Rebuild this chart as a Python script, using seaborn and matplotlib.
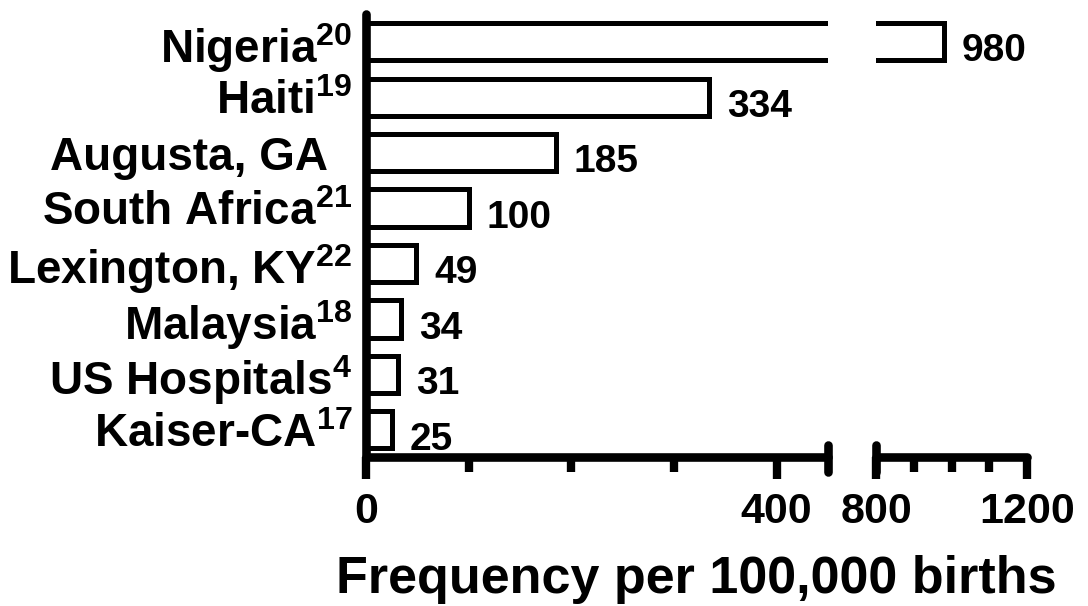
import matplotlib
matplotlib.use('Agg')
import matplotlib.pyplot as plt
import seaborn as sns


sites = ['Nigeria$^{20}$', 'Haiti$^{19}$', 'Augusta, GA  ', 'South Africa$^{21}$',
         'Lexington, KY$^{22}$', 'Malaysia$^{18}$', 'US Hospitals$^{4}$', 'Kaiser-CA$^{17}$']
freq = [980, 334, 185, 100, 49, 34, 31, 25]

left_major = [0, 400]
left_minor = [100, 200, 300]
right_major = [800, 1200]
right_minor = [900, 1000, 1100]
left_lim = (0, 450)
right_lim = (800, 1200)

sns.set_style('white')
plt.rcParams['font.family'] = ['Liberation Sans', 'DejaVu Sans']
plt.rcParams['font.weight'] = 'bold'
plt.rcParams['mathtext.fontset'] = 'custom'
plt.rcParams['mathtext.rm'] = 'Liberation Sans:bold'
plt.rcParams['mathtext.it'] = 'Liberation Sans:bold'
plt.rcParams['mathtext.bf'] = 'Liberation Sans:bold'
plt.rcParams['mathtext.sf'] = 'Liberation Sans:bold'
for k in ('text.color', 'axes.labelcolor', 'xtick.color', 'ytick.color', 'axes.edgecolor'):
    plt.rcParams[k] = 'black'

fig = plt.figure(figsize=(10.88, 6.06), dpi=100)
ax1 = fig.add_axes([366/1088, 149/606, 462/1088, 443/606])
ax2 = fig.add_axes([876/1088, 149/606, 151/1088, 443/606])

lw = 6.2
for ax in (ax1, ax2):
    sns.barplot(x=freq, y=sites, orient='h', color='white', edgecolor='black',
                linewidth=3.6, width=0.67, saturation=1, ax=ax)
    ax.set_ylim(7.49, -0.5)
    ax.set_xlabel('')
    ax.set_ylabel('')
    for s in ('top', 'right'):
        ax.spines[s].set_visible(False)
    ax.spines['bottom'].set_linewidth(lw)
    ax.spines['left'].set_linewidth(lw)
    ax.spines['bottom'].set_capstyle('round')
    ax.spines['left'].set_capstyle('round')
    ax.tick_params(axis='x', which='major', direction='out', length=16, width=6,
                   color='black', labelsize=31, pad=9, bottom=True)
    ax.tick_params(axis='x', which='minor', direction='out', length=11, width=6,
                   color='black', bottom=True)

ax1.set_xlim(*left_lim)
ax1.set_xticks(left_major)
ax1.set_xticks(left_minor, minor=True)
ax1.tick_params(axis='y', length=0, pad=10, labelsize=33)

ax2.set_xlim(*right_lim)
ax2.set_xticks(right_major)
ax2.set_xticks(right_minor, minor=True)
ax2.spines['left'].set_visible(False)
ax2.tick_params(axis='y', left=False, labelleft=False)

for ax in (ax1, ax2):
    for lab in ax.get_xticklabels() + ax.get_yticklabels():
        lab.set_fontweight('bold')

# break marks at the axis gap
ax1.plot([1, 1], [-0.034, 0.026], transform=ax1.transAxes, color='black',
         lw=lw, solid_capstyle='round', clip_on=False)
ax2.plot([0, 0], [-0.034, 0.026], transform=ax2.transAxes, color='black',
         lw=lw, solid_capstyle='round', clip_on=False)

# value labels
for i, v in enumerate(freq):
    ax = ax2 if v > left_lim[1] else ax1
    ax.annotate(str(v), xy=(v, i), xytext=(13, -7), textcoords='offset points',
                ha='left', va='center', fontsize=28, fontweight='bold',
                annotation_clip=False)

fig.text(696/1088, 0.044, 'Frequency per 100,000 births', ha='center', va='center',
         fontsize=37.5, fontweight='bold')

fig.savefig('out.png', dpi=100)
